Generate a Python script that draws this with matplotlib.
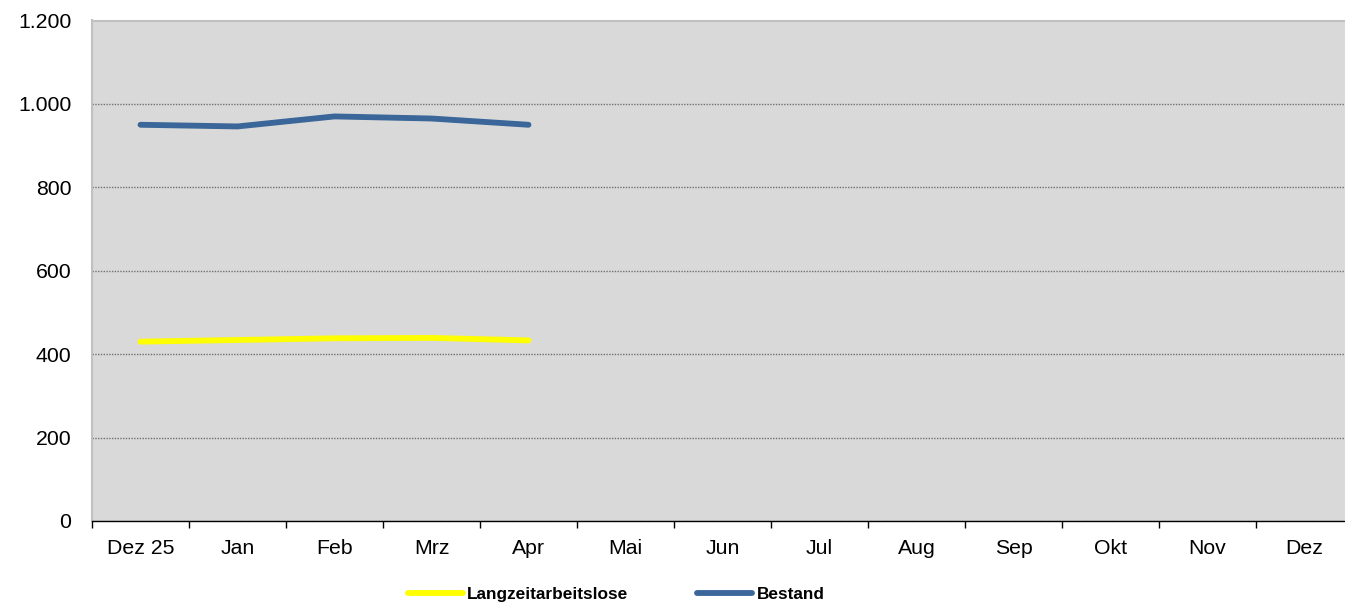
import numpy as np
import matplotlib.pyplot as plt
from matplotlib.ticker import FixedLocator, FuncFormatter

# =========================================================
# DATA
# =========================================================

months = ["Dez 25", "Jan", "Feb", "Mrz", "Apr", "Mai", "Jun",
          "Jul", "Aug", "Sep", "Okt", "Nov", "Dez"]

langzeit = [430, 434, 438, 439, 433]

bestand = [950, 946, 970, 965, 950]

y_ticks = [0, 200, 400, 600, 800, 1000, 1200]


# =========================================================
# PLOT
# =========================================================

plt.rcParams["font.family"] = ["Liberation Sans", "DejaVu Sans"]

fig = plt.figure(figsize=(13.45, 6.07), dpi=100)

ax = fig.add_axes([92 / 1345, 1 - 521 / 607, 1261 / 1345, 500.5 / 607])

ax.set_facecolor("#d9d9d9")

x_pos = np.arange(len(langzeit)) + 0.5

ax.plot(x_pos, langzeit, color="#ffff00", lw=4.2,
        solid_capstyle="round", label="Langzeitarbeitslose", zorder=3)

ax.plot(x_pos[:len(bestand)], bestand, color="#3a6699", lw=4.2,
        solid_capstyle="round", label="Bestand", zorder=3)

ax.set_xlim(0, len(months))
ax.set_ylim(0, 1200)

# x axis: ticks between categories, labels at centres
ax.xaxis.set_major_locator(FixedLocator(np.arange(len(months) + 1)))
ax.xaxis.set_minor_locator(FixedLocator(np.arange(len(months)) + 0.5))
ax.set_xticklabels([], minor=False)
ax.set_xticklabels(months, minor=True)
ax.tick_params(axis="x", which="major", length=5, width=1, color="black",
               direction="out")
ax.tick_params(axis="x", which="minor", length=0, pad=13, labelsize=15.3)

# y axis
ax.set_yticks(y_ticks)
ax.yaxis.set_major_formatter(
    FuncFormatter(lambda v, p: f"{int(v):,}".replace(",", "."))
)
ax.tick_params(axis="y", length=0, pad=15, labelsize=15.3)

ax.grid(axis="y", color="#707070", linestyle=(0, (1, 1)), lw=1, zorder=1)
ax.set_axisbelow(True)

for side in ["left", "top", "right"]:
    ax.spines[side].set_color("#c0c0c0")
    ax.spines[side].set_linewidth(1.5)
ax.spines["bottom"].set_color("black")
ax.spines["bottom"].set_linewidth(1)

fig.legend(
    loc="center",
    bbox_to_anchor=(616 / 1345, 1 - 594 / 607),
    ncol=2,
    frameon=False,
    handlelength=3.2,
    handletextpad=0.25,
    columnspacing=4.0,
    prop={"size": 12.4, "weight": "bold"},
)

plt.savefig("out.png", dpi=100)

plt.close()
